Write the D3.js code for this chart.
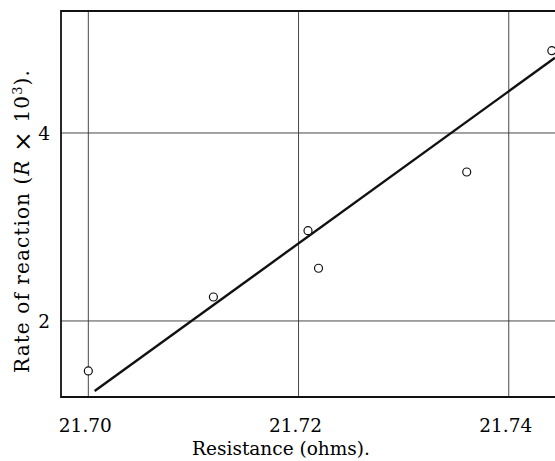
<!DOCTYPE html>
<html>
<head>
<meta charset="utf-8">
<script src="https://cdn.jsdelivr.net/npm/d3@7"></script>
<style>
  html, body { margin: 0; padding: 0; background: #fff; }
  svg text { font-family: "DejaVu Serif", "Liberation Serif", serif; fill: #000; }
</style>
</head>
<body>
<svg id="chart" width="555" height="461"></svg>
<script>
// Measured resistance (ohms) and rate of reaction (R × 10³)
const resistance = [21.700, 21.7119, 21.7209, 21.7219, 21.736, 21.7441];
const rate       = [1.468, 2.255, 2.961, 2.561, 3.585, 4.876];

// Fitted straight line, end points
const fitX = [21.7006, 21.7444];
const fitY = [1.255, 4.80];

const xTicks = [21.70, 21.72, 21.74];
const yTicks = [2, 4];
const xTickLabels = ["21.70", "21.72", "21.74"];
const yTickLabels = ["2", "4"];

const W = 555, H = 461;
const margin = { top: 11, right: 0, bottom: 64, left: 61 };
const iw = W - margin.left - margin.right;
const ih = H - margin.top - margin.bottom;

const svg = d3.select("#chart");
const g = svg.append("g").attr("transform", `translate(${margin.left},${margin.top})`);

const x = d3.scaleLinear().domain([21.6974, 21.7444]).range([0, iw]);
const y = d3.scaleLinear().domain([1.191, 5.298]).range([ih, 0]);

g.append("clipPath").attr("id", "plot-clip")
  .append("rect").attr("width", iw).attr("height", ih);

// Grid lines
g.selectAll(".vgrid").data(xTicks).enter().append("line")
  .attr("x1", d => x(d)).attr("x2", d => x(d))
  .attr("y1", 0).attr("y2", ih)
  .attr("stroke", "#333").attr("stroke-width", 0.9);
g.selectAll(".hgrid").data(yTicks).enter().append("line")
  .attr("x1", 0).attr("x2", iw)
  .attr("y1", d => y(d)).attr("y2", d => y(d))
  .attr("stroke", "#333").attr("stroke-width", 0.9);

// Frame: left, top and bottom edges
const frame = d3.path();
frame.moveTo(iw, 0); frame.lineTo(0, 0); frame.lineTo(0, ih); frame.lineTo(iw, ih);
g.append("path").attr("d", frame.toString())
  .attr("fill", "none").attr("stroke", "#111").attr("stroke-width", 1.8);

// Fitted line
g.append("line")
  .attr("clip-path", "url(#plot-clip)")
  .attr("x1", x(fitX[0])).attr("y1", y(fitY[0]))
  .attr("x2", x(fitX[1])).attr("y2", y(fitY[1]))
  .attr("stroke", "#111").attr("stroke-width", 2.4);

// Observations
g.selectAll(".pt").data(resistance).enter().append("circle")
  .attr("cx", d => x(d))
  .attr("cy", (d, i) => y(rate[i]))
  .attr("r", 4)
  .attr("fill", "#fff").attr("stroke", "#111").attr("stroke-width", 1.2);

// Tick labels
g.selectAll(".xlab").data(xTicks).enter().append("text")
  .attr("x", d => x(d) - 3).attr("y", ih + 35)
  .attr("text-anchor", "middle").attr("font-size", 18.5)
  .text((d, i) => xTickLabels[i]);
g.selectAll(".ylab").data(yTicks).enter().append("text")
  .attr("x", -11).attr("y", d => y(d) + 7)
  .attr("text-anchor", "end").attr("font-size", 18.5)
  .text((d, i) => yTickLabels[i]);

// Axis titles
svg.append("text")
  .attr("x", 281).attr("y", 455)
  .attr("text-anchor", "middle").attr("font-size", 18.5)
  .text("Resistance (ohms).");

const yt = svg.append("text")
  .attr("transform", "translate(29,221) rotate(-90)")
  .attr("text-anchor", "middle").attr("font-size", 20)
  .attr("letter-spacing", 1.1);
yt.append("tspan").text("Rate of reaction (");
yt.append("tspan").attr("font-style", "italic").text("R");
yt.append("tspan").text(" ");
yt.append("tspan").attr("font-size", 25).attr("dy", 2).text("×");
yt.append("tspan").attr("dy", -2).text(" 10");
yt.append("tspan").attr("font-size", 13).attr("dy", -7).text("3");
yt.append("tspan").attr("dy", 7).text(").");
</script>
</body>
</html>
